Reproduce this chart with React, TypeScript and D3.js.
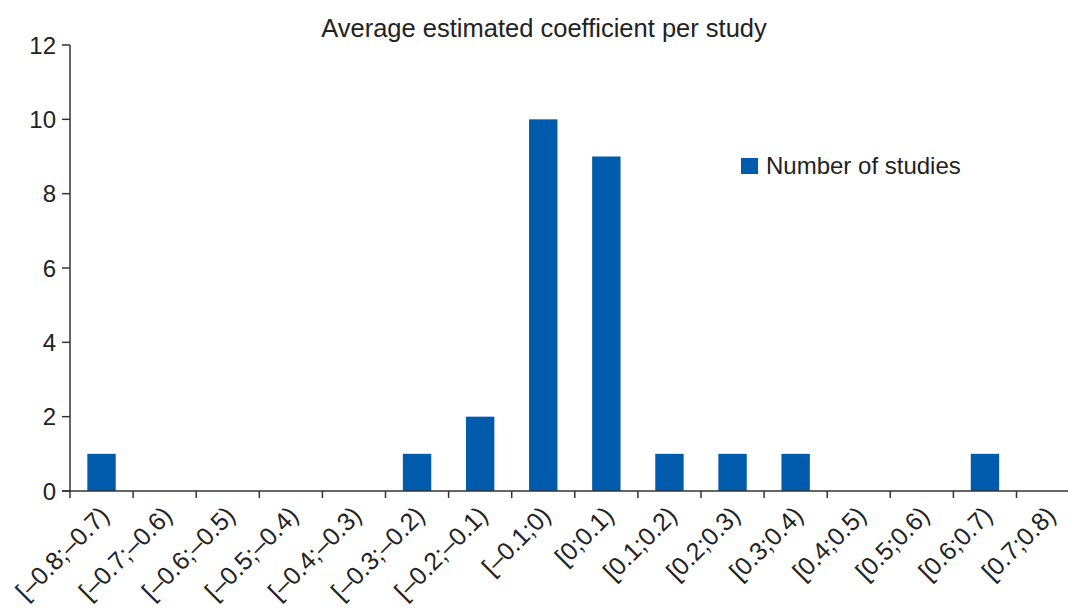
import React, { useRef, useEffect } from 'react';
import * as d3 from 'd3';

// Histogram of average estimated coefficients per study.
const bins = [
  '[–0.8;–0.7)', '[–0.7;–0.6)', '[–0.6;–0.5)', '[–0.5;–0.4)', '[–0.4;–0.3)', '[–0.3;–0.2)',
  '[–0.2;–0.1)', '[–0.1;0)', '[0;0.1)', '[0.1;0.2)', '[0.2;0.3)', '[0.3;0.4)',
  '[0.4;0.5)', '[0.5;0.6)', '[0.6;0.7)', '[0.7;0.8)',
];
const studies = [1, 0, 0, 0, 0, 1, 2, 10, 9, 1, 1, 1, 0, 0, 1, 0];
const yTicks = [0, 2, 4, 6, 8, 10, 12];

const W = 1068;
const H = 608;
const FONT = '"Liberation Sans", Arial, sans-serif';
const BLUE = '#005BAC';
const AXIS = '#333333';

export default function App() {
  const svgRef = useRef<SVGSVGElement>(null);

  useEffect(() => {
    const svg = d3.select(svgRef.current);
    svg.selectAll('*').remove();

    const left = 70;
    const top = 45;
    const bottom = 491;

    const x = d3.scaleBand<string>().domain(bins).range([left, left + 63.1 * bins.length])
      .paddingInner(0.55).paddingOuter(0.275);
    const y = d3.scaleLinear().domain([0, 12]).range([bottom, top]);
    const step = x.step();

    svg.append('text').attr('x', 544).attr('y', 37).attr('text-anchor', 'middle')
      .attr('font-family', FONT).attr('font-size', 25.5).attr('fill', '#222')
      .text('Average estimated coefficient per study');

    // bars
    svg.append('g').selectAll('rect').data(studies).join('rect')
      .attr('x', (_, i) => x(bins[i])!)
      .attr('y', (d) => y(d))
      .attr('width', x.bandwidth())
      .attr('height', (d) => bottom - y(d))
      .attr('fill', BLUE);

    // y axis
    svg.append('line').attr('x1', left).attr('x2', left).attr('y1', top).attr('y2', bottom + 7)
      .attr('stroke', AXIS).attr('stroke-width', 1.5);
    for (const t of yTicks) {
      svg.append('line').attr('x1', left - 8).attr('x2', left).attr('y1', y(t)).attr('y2', y(t))
        .attr('stroke', AXIS).attr('stroke-width', 1.5);
      svg.append('text').attr('x', left - 14).attr('y', y(t) + 8.5).attr('text-anchor', 'end')
        .attr('font-family', FONT).attr('font-size', 24).attr('fill', '#222').text(t);
    }

    // x axis
    svg.append('line').attr('x1', left - 8).attr('x2', W).attr('y1', bottom).attr('y2', bottom)
      .attr('stroke', AXIS).attr('stroke-width', 1.5);
    bins.forEach((b, i) => {
      const tx = left + step * (i + 1);
      svg.append('line').attr('x1', tx).attr('x2', tx).attr('y1', bottom).attr('y2', bottom + 7)
        .attr('stroke', AXIS).attr('stroke-width', 1.5);
      const cx = x(b)! + x.bandwidth() / 2 + 9;
      svg.append('text').attr('transform', `translate(${cx},${bottom + 26}) rotate(-45)`)
        .attr('text-anchor', 'end').attr('font-family', FONT).attr('font-size', 25)
        .attr('fill', '#222').text(b);
    });

    // legend
    svg.append('rect').attr('x', 741).attr('y', 158).attr('width', 17).attr('height', 16).attr('fill', BLUE);
    svg.append('text').attr('x', 766).attr('y', 174).attr('font-family', FONT).attr('font-size', 24)
      .attr('fill', '#222').text('Number of studies');
  }, []);

  return (
    <svg ref={svgRef} width={W} height={H}
      style={{ position: 'absolute', left: 0, top: 0, background: '#fff' }} />
  );
}
